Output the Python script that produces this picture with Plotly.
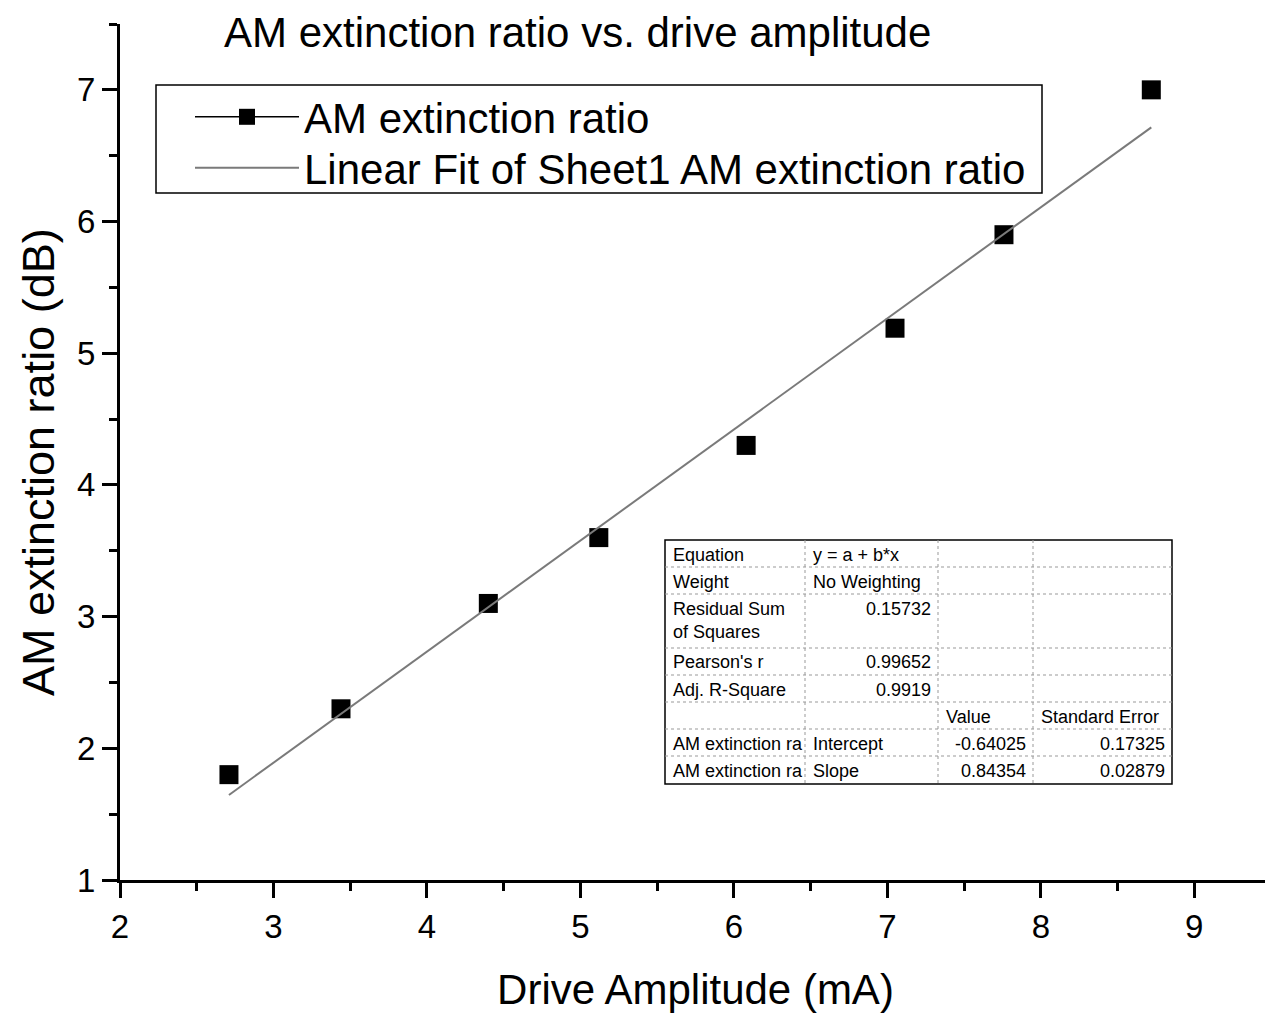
import plotly.graph_objects as go
import numpy as np

# ---- data ----
drive_amplitude = [2.71, 3.44, 4.40, 5.12, 6.08, 7.05, 7.76, 8.72]
extinction_ratio = [1.80, 2.30, 3.10, 3.60, 4.30, 5.19, 5.90, 7.00]
fit_intercept = -0.64025
fit_slope = 0.84354

x_ticks = [2, 3, 4, 5, 6, 7, 8, 9]
y_ticks = [1, 2, 3, 4, 5, 6, 7]

table_rows = [
    ["Equation", "y = a + b*x", "", ""],
    ["Weight", "No Weighting", "", ""],
    ["Residual Sum<br>of Squares", "0.15732", "", ""],
    ["Pearson's r", "0.99652", "", ""],
    ["Adj. R-Square", "0.9919", "", ""],
    ["", "", "Value", "Standard Error"],
    ["AM extinction ra", "Intercept", "-0.64025", "0.17325"],
    ["AM extinction ra", "Slope", "0.84354", "0.02879"],
]
# which cells are right-aligned numbers
num_cells = {(2, 1), (3, 1), (4, 1), (6, 2), (6, 3), (7, 2), (7, 3)}

FONT = "Liberation Sans, Arial, sans-serif"
BODY = 8  # default page margin around the plot div
W, H = 1273 - BODY, 1014 - BODY
ML, MR, MT, MB = 120 - BODY, 2, 24 - BODY, 134
PW, PH = W - ML - MR, H - MT - MB
X0, Y1 = BODY + ML, BODY + MT + PH  # screen px of plot left / bottom


def px(xs):
    return (xs - X0) / PW


def py(ys):
    return (Y1 - ys) / PH


fig = go.Figure()

fit_x = np.array([drive_amplitude[0], drive_amplitude[-1]])
fit_y = fit_intercept + fit_slope * fit_x

fig.add_trace(go.Scatter(
    x=drive_amplitude, y=extinction_ratio, mode="markers",
    marker=dict(symbol="square", size=19, color="black"),
    showlegend=False, legendgroup="data", name="AM extinction ratio"))
# legend entry showing line + symbol
fig.add_trace(go.Scatter(
    x=[None], y=[None], mode="lines+markers",
    line=dict(color="black", width=1.5),
    marker=dict(symbol="square", size=19, color="black"),
    legendgroup="data", name="AM extinction ratio", legend="legend"))
fig.add_trace(go.Scatter(
    x=fit_x, y=fit_y, mode="lines",
    line=dict(color="#7a7a7a", width=2),
    name="Linear Fit of Sheet1 AM extinction ratio", legend="legend2"))

shapes = []
# legend frame
shapes.append(dict(type="rect", xref="paper", yref="paper",
                   x0=px(156), x1=px(1042), y0=py(193), y1=py(85),
                   line=dict(color="black", width=1.5), fillcolor="rgba(0,0,0,0)"))

# ---- table ----
col_edges = [665, 805, 938, 1033, 1172]
row_edges = [540, 567, 594, 648, 675, 702, 729, 756, 784]
for xe in col_edges[1:-1]:
    shapes.append(dict(type="line", xref="paper", yref="paper",
                       x0=px(xe), x1=px(xe), y0=py(row_edges[0]), y1=py(row_edges[-1]),
                       line=dict(color="#999999", width=1, dash="dot")))
for ye in row_edges[1:-1]:
    shapes.append(dict(type="line", xref="paper", yref="paper",
                       x0=px(col_edges[0]), x1=px(col_edges[-1]), y0=py(ye), y1=py(ye),
                       line=dict(color="#999999", width=1, dash="dot")))
shapes.append(dict(type="rect", xref="paper", yref="paper",
                   x0=px(col_edges[0]), x1=px(col_edges[-1]),
                   y0=py(row_edges[-1]), y1=py(row_edges[0]),
                   line=dict(color="black", width=1.5), fillcolor="white", layer="below"))

annotations = []
for r, row in enumerate(table_rows):
    for c, txt in enumerate(row):
        if not txt:
            continue
        top = row_edges[r]
        if (r, c) in num_cells:
            xa = col_edges[c + 1] - 5
            anchor = "right"
        else:
            xa = col_edges[c] + 6
            anchor = "left"
        if r == 2:
            yv, ya = top + 3, "top"
        else:
            yv, ya = (row_edges[r] + row_edges[r + 1]) / 2 + 1, "middle"
        annotations.append(dict(
            text=txt, xref="paper", yref="paper", x=px(xa), y=py(yv),
            xanchor=anchor, yanchor=ya, showarrow=False, align="left",
            font=dict(family=FONT, size=18, color="black")))

# title
annotations.append(dict(
    text="AM extinction ratio vs. drive amplitude", xref="paper", yref="paper",
    x=px(222), y=py(32), xanchor="left", yanchor="middle", showarrow=False,
    font=dict(family=FONT, size=42, color="black")))
# y-axis title
annotations.append(dict(
    text="AM extinction ratio (dB)", xref="paper", yref="paper",
    x=px(38), y=py(462), xanchor="center", yanchor="middle", showarrow=False,
    textangle=-90, borderpad=0, font=dict(family=FONT, size=45, color="black")))

axis_common = dict(
    showline=True, linecolor="black", linewidth=3, mirror=False,
    ticks="outside", ticklen=15, tickwidth=3, tickcolor="black",
    showgrid=False, zeroline=False,
    tickfont=dict(family=FONT, size=33, color="black"),
)
minor = dict(dtick=0.5, ticklen=8, tickwidth=3, tickcolor="black", ticks="outside")
leg_common = dict(xanchor="left", yanchor="middle", borderwidth=0,
                  bgcolor="rgba(0,0,0,0)",
                  font=dict(family=FONT, size=42, color="black"),
                  itemwidth=104)

fig.update_layout(
    width=W, height=H,
    margin=dict(l=ML, r=MR, t=MT, b=MB),
    paper_bgcolor="white", plot_bgcolor="white",
    font=dict(family=FONT, color="black"),
    xaxis=dict(range=[2, 9.5], tickvals=x_ticks, **axis_common, minor=minor,
               title=dict(text="Drive Amplitude (mA)", font=dict(family=FONT, size=42), standoff=32)),
    yaxis=dict(range=[1, 7.5], tickvals=y_ticks, **axis_common, minor=minor),
    legend=dict(x=px(190), y=py(117), **leg_common),
    legend2=dict(x=px(190), y=py(168), **leg_common),
    shapes=shapes,
    annotations=annotations,
)

fig.write_html("out.html")
